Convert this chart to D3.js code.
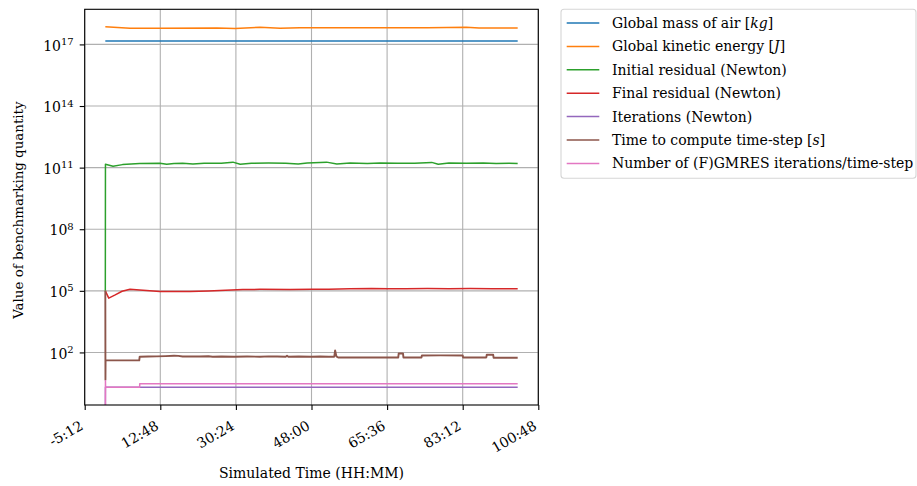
<!DOCTYPE html>
<html><head><meta charset="utf-8">
<script src="https://cdn.jsdelivr.net/npm/d3@7"></script>
<style>body{margin:0;background:#fff}svg{display:block}text{font-family:"DejaVu Serif",serif;fill:#000}</style>
</head><body><svg id="c" width="917" height="486"></svg>
<script>
// time in hours, values
const seriesNames = ["Global mass of air [kg]","Global kinetic energy [J]","Initial residual (Newton)","Final residual (Newton)","Iterations (Newton)","Time to compute time-step [s]","Number of (F)GMRES iterations/time-step"];
const colors = ["#1f77b4","#ff7f0e","#2ca02c","#d62728","#9467bd","#8c564b","#e377c2"];
const xTicks = [-4.8,12.8,30.4,48.0,65.6,83.2,100.8];
const yTicks = [2,5,8,11,14,17];

const massAir = [[0,1.45e17],[24,1.45e17],[48,1.45e17],[72,1.45e17],[96,1.45e17]];
const kinetic = [[0,7.2e17],[5.75,6.2e17],[12.7,6.2e17],[26,6.3e17],[30.2,6.0e17],[36,6.9e17],[40.7,6.2e17],[45.3,6.5e17],[55,6.4e17],[65,6.4e17],[75,6.4e17],[84,6.8e17],[87,6.3e17],[96,6.3e17]];
const initRes = [[0,1e5],[0.03,1.46e11],[1.8,1.17e11],[4,1.4e11],[8,1.58e11],[12.7,1.65e11],[14.3,1.47e11],[16,1.6e11],[18,1.65e11],[20.4,1.5e11],[23,1.62e11],[27,1.65e11],[29.7,1.85e11],[31.4,1.45e11],[34,1.65e11],[38,1.67e11],[42,1.65e11],[44.9,1.5e11],[47,1.7e11],[51.5,1.85e11],[53.9,1.5e11],[57,1.66e11],[61,1.6e11],[64,1.68e11],[68,1.62e11],[72,1.65e11],[76,1.8e11],[77.5,1.45e11],[80,1.66e11],[84,1.62e11],[88,1.66e11],[91,1.58e11],[94,1.65e11],[96,1.58e11]];
const finalRes = [[0,1e5],[0.8,4.4e4],[2.3,6.3e4],[3.9,9.5e4],[5.75,1.2e5],[8,1.1e5],[12.7,9.3e4],[19.7,9.2e4],[24,9.8e4],[28,1.08e5],[32,1.15e5],[36,1.18e5],[43,1.16e5],[48,1.2e5],[52,1.2e5],[57,1.25e5],[62,1.3e5],[66,1.26e5],[70,1.28e5],[75,1.3e5],[80,1.27e5],[85,1.3e5],[90,1.28e5],[96,1.28e5]];
const newtonIt = [[0,0],[0.03,2],[96,2]];
const stepTime = [[0,1e5],[0.03,4.7],[0.06,41],[7.9,41],[8,62],[10,63],[12,64],[14,66],[16,69],[17,68],[18,63],[20,64],[22,63],[24,65],[25,62],[27,63],[30,62],[33,63],[36,62],[38,64],[40,63],[42,62],[42.3,70],[42.6,62],[45,63],[48,62],[50,63],[52,62],[53.3,62],[53.5,125],[53.8,64],[54.2,57],[58,57],[62,57],[66,57],[68.2,57],[68.3,89],[69.3,89],[69.4,57],[73.6,57],[73.7,71],[78,72],[83.2,71],[83.3,57],[88.7,57],[88.8,77],[90.3,77],[90.4,55],[96,55]];
const gmresIt = [[0,0],[0.03,4.2],[0.06,2],[8,2],[8.01,3],[96,3]];
const allSeries = [massAir,kinetic,initRes,finalRes,newtonIt,stepTime,gmresIt];

const L=84.7,R=538.3,T=9.3,B=405;
const FS=14;
const svg=d3.select("#c");
const x=d3.scaleLinear().domain([-4.8,100.8]).range([L,R]);
const y=d3.scaleLog().domain([Math.pow(10,-0.56),Math.pow(10,18.71)]).range([B,T]);
const fmtT=v=>{const h=Math.floor(v+1e-9);const m=Math.round((v-h)*60);return h+":"+String(m).padStart(2,"0");};

svg.append("defs").append("clipPath").attr("id","clip").append("rect").attr("x",L).attr("y",T).attr("width",R-L).attr("height",B-T);

// grid
const g=svg.append("g");
g.selectAll(".gx").data(xTicks).enter().append("line").attr("x1",d=>x(d)).attr("x2",d=>x(d)).attr("y1",T).attr("y2",B).attr("stroke","#b0b0b0").attr("stroke-width",1.1);
g.selectAll(".gy").data(yTicks).enter().append("line").attr("x1",L).attr("x2",R).attr("y1",d=>y(Math.pow(10,d))).attr("y2",d=>y(Math.pow(10,d))).attr("stroke","#b0b0b0").attr("stroke-width",1.1);

// lines
const line=d3.line().x(d=>x(d[0])).y(d=>d[1]>0?y(d[1]):B+50);
const lg=svg.append("g").attr("clip-path","url(#clip)");
allSeries.forEach((s,i)=>{lg.append("path").attr("d",line(s)).attr("fill","none").attr("stroke",colors[i]).attr("stroke-width",i===5?1.9:1.5).attr("stroke-linejoin","round");});

// spines
svg.append("rect").attr("x",L).attr("y",T).attr("width",R-L).attr("height",B-T).attr("fill","none").attr("stroke","#000").attr("stroke-width",1.1);

// x axis
const xa=svg.append("g").attr("transform",`translate(0,${B})`).call(d3.axisBottom(x).tickValues(xTicks).tickSize(5).tickFormat(fmtT));
xa.select(".domain").remove();
xa.selectAll("line").attr("stroke","#000").attr("stroke-width",1.1);
xa.selectAll("text").attr("font-size",FS).attr("text-anchor","end").attr("y",0).attr("dy",0).attr("x",0)
  .attr("dominant-baseline","middle").attr("transform","translate(-3,20) rotate(-30)");

// y axis
const ya=svg.append("g").attr("transform",`translate(${L},0)`).call(d3.axisLeft(y).tickValues(yTicks.map(d=>Math.pow(10,d))).tickSize(5).tickFormat(""));
ya.select(".domain").remove();
ya.selectAll("line").attr("stroke","#000").attr("stroke-width",1.1);
ya.selectAll(".tick").each(function(d){
  const t=d3.select(this).append("text").attr("x",-11).attr("dy","0.4em").attr("text-anchor","end").attr("font-size",FS);
  t.append("tspan").text("10");
  t.append("tspan").attr("dy","-0.55em").attr("font-size",10).text(Math.round(Math.log10(d)));
});

// axis labels
svg.append("text").attr("x",(L+R)/2).attr("y",478).attr("text-anchor","middle").attr("font-size",FS).text("Simulated Time (HH:MM)");
svg.append("text").attr("transform",`translate(23,${(T+B)/2+3}) rotate(-90)`).attr("text-anchor","middle").attr("font-size",13.4).text("Value of benchmarking quantity");

// legend
const lgd=svg.append("g");
lgd.append("rect").attr("x",561).attr("y",9.3).attr("width",355).attr("height",169).attr("rx",3).attr("fill","#fff").attr("stroke","#d6d6d6").attr("stroke-width",1.1);
seriesNames.forEach((n,i)=>{
  const cy=23+i*23.4;
  lgd.append("line").attr("x1",566.7).attr("x2",599.3).attr("y1",cy).attr("y2",cy).attr("stroke",colors[i]).attr("stroke-width",1.5);
  const t=lgd.append("text").attr("x",612).attr("y",cy).attr("dy","0.35em").attr("font-size",FS);
  const m=n.match(/^(.*\[)(.*)(\].*)$/);
  if(m){t.append("tspan").text(m[1]);t.append("tspan").attr("font-style","italic").text(m[2]);t.append("tspan").text(m[3]);}
  else t.text(n);
});
</script></body></html>
